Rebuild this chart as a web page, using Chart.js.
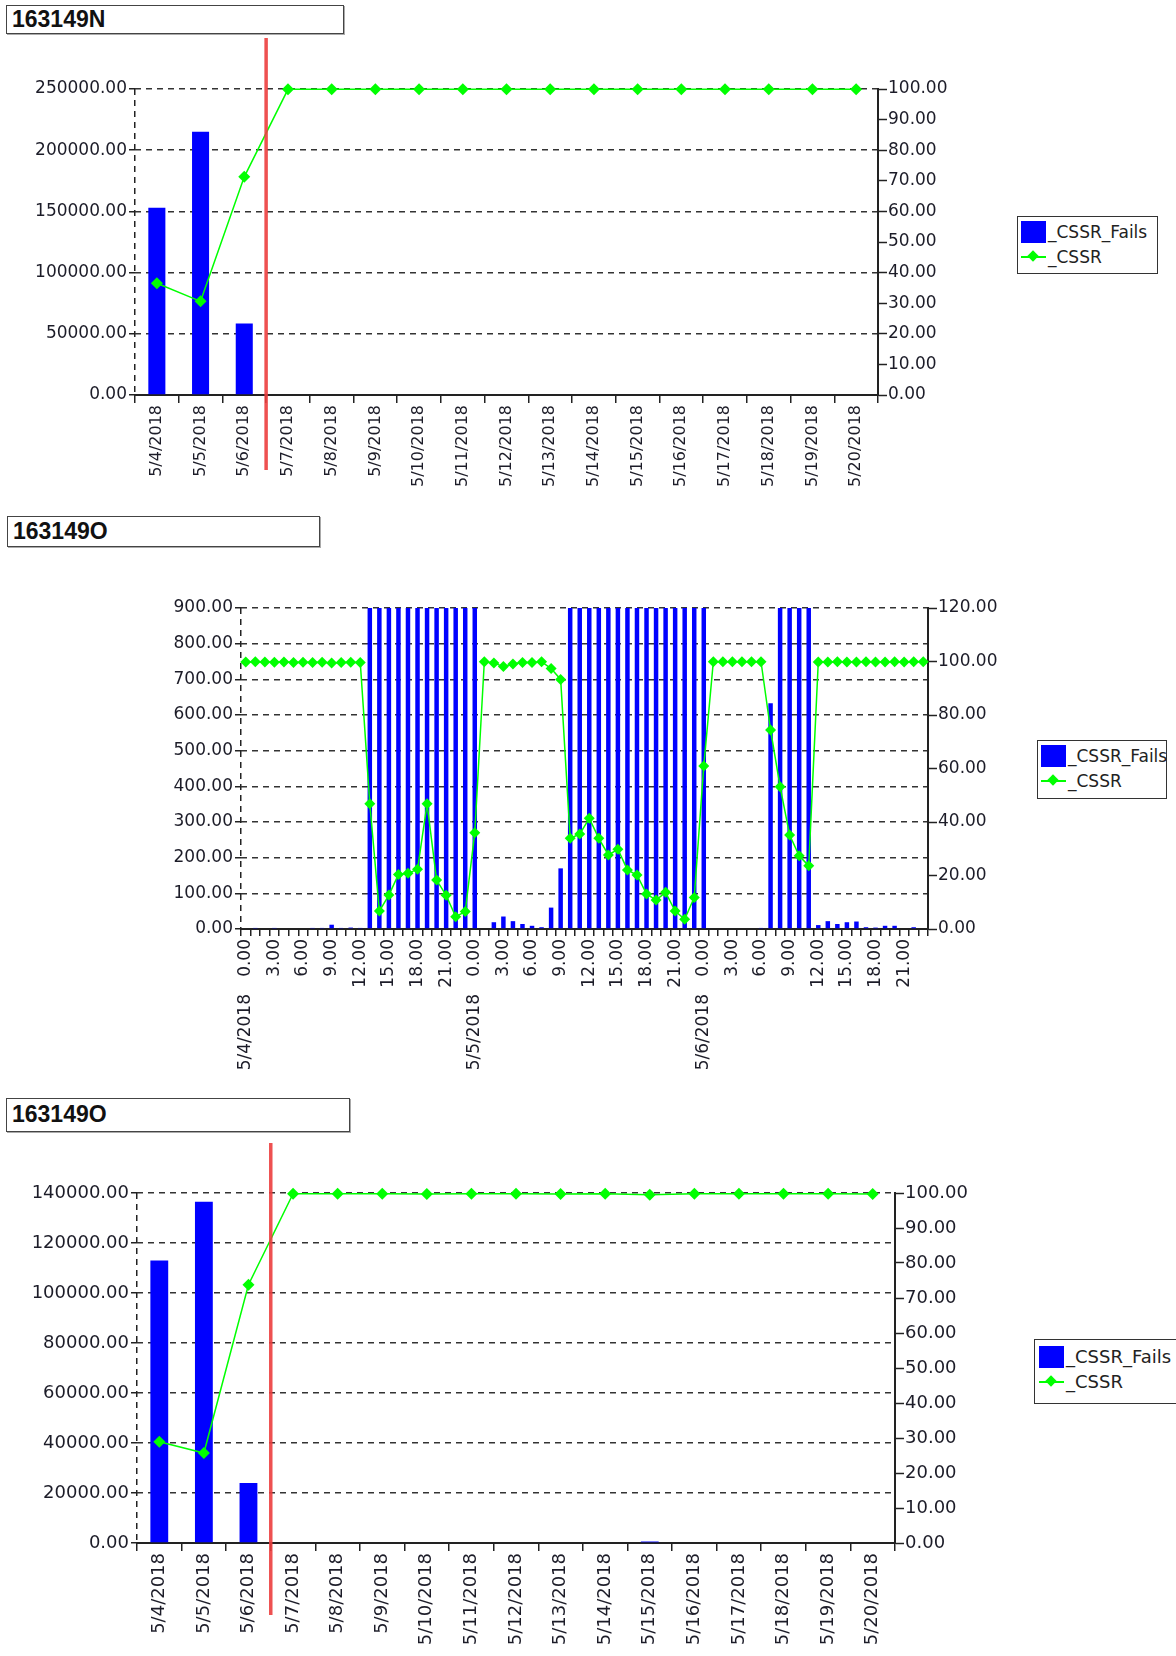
<!DOCTYPE html>
<html>
<head>
<meta charset="utf-8">
<script src="https://cdn.jsdelivr.net/npm/chart.js@4.4.1/dist/chart.umd.min.js"></script>
<style>
  body { margin: 0; background: #fff; width: 1176px; height: 1656px; position: relative; overflow: hidden; }
  .title {
    position: absolute; box-sizing: border-box; border: 1.5px solid #444; box-shadow: 1px 1px 0 #aaa;
    font: bold 23px "Liberation Sans", Arial, sans-serif; color: #111; padding-left: 5px; background: #fff;
  }
  canvas { position: absolute; left: 0; }
  .legend {
    position: absolute; box-sizing: border-box; border: 1.5px solid #333; background: #fff;
    font: 17px "DejaVu Sans", sans-serif; color: #222; padding: 2px 3px;
  }
  .legend .row { display: flex; align-items: center; height: 25px; white-space: nowrap; }
  .legend .sw-bar { width: 25px; height: 22px; margin-right: 2px; flex: none; }
  .legend .sw-line { position: relative; width: 25px; height: 2px; margin-right: 2px; flex: none; }
  .legend .sw-line i { position: absolute; left: 8px; top: -4px; width: 8px; height: 8px; transform: rotate(45deg); }
</style>
</head>
<body>
<div class="title" style="left:6px;top:5px;width:338px;height:29px;line-height:26px">163149N</div>
<canvas id="chartN" width="1000" height="464" style="top:36px"></canvas>
<div class="legend" id="legendN" style="left:1017px;top:216px;width:141px;height:58px"></div>

<div class="title" style="left:7px;top:516px;width:313px;height:31px;line-height:28px">163149O</div>
<canvas id="chartHourly" width="1000" height="520" style="top:560px"></canvas>
<div class="legend" id="legendHourly" style="left:1037px;top:740px;width:130px;height:59px"></div>

<div class="title" style="left:6px;top:1098px;width:344px;height:34px;line-height:31px">163149O</div>
<canvas id="chartO" width="1000" height="516" style="top:1140px"></canvas>
<div class="legend" id="legendO" style="left:1034px;top:1339px;width:156px;height:65px;font-size:18px;padding:4px 4px"></div>

<script>
// ---- data ----
const dailyDates = ["5/4/2018", "5/5/2018", "5/6/2018", "5/7/2018", "5/8/2018", "5/9/2018",
  "5/10/2018", "5/11/2018", "5/12/2018", "5/13/2018", "5/14/2018", "5/15/2018",
  "5/16/2018", "5/17/2018", "5/18/2018", "5/19/2018", "5/20/2018"];
const cutoverAfter = "5/6/2018";

const failsN = [153000, 215000, 58500, 0, 0, 0, 0, 0, 0, 0, 0, 0, 0, 0, 0, 0, 0];
const cssrN = [36.5, 30.6, 71.3, 99.9, 99.9, 99.9, 99.9, 99.9, 99.9, 99.9, 99.9, 99.9, 99.9, 99.9, 99.9, 99.9, 99.9];

const failsO = [113000, 136500, 24000, 0, 0, 0, 0, 0, 0, 0, 0, 600, 0, 0, 0, 0, 0];
const cssrO = [28.9, 25.7, 73.8, 99.8, 99.8, 99.8, 99.7, 99.8, 99.8, 99.7, 99.8, 99.5, 99.8, 99.8, 99.8, 99.8, 99.7];

const hourDays = ["5/4/2018", "5/5/2018", "5/6/2018"];
const hourTicks = ["0.00", "1.00", "2.00", "3.00", "4.00", "5.00", "6.00", "7.00", "8.00", "9.00", "10.00", "11.00",
  "12.00", "13.00", "14.00", "15.00", "16.00", "17.00", "18.00", "19.00", "20.00", "21.00", "22.00", "23.00"];

const failsHourly = [
  // 5/4
  0, 3, 0, 3, 0, 0, 0, 3, 3, 12, 3, 4, 3, 1650, 1820, 1900, 2100, 1750, 1980, 1600, 1880, 2050, 1700, 1500,
  // 5/5
  1400, 0, 19, 35, 22, 14, 9, 5, 60, 170, 1500, 1900, 2200, 2050, 1850, 2000, 1700, 1950, 2100, 1800, 1650, 1900, 1750, 1300,
  // 5/6
  1200, 0, 0, 0, 0, 0, 3, 633, 1100, 1600, 1800, 1400, 11, 22, 14, 19, 21, 5, 4, 9, 9, 0, 5, 0
];
const cssrHourly = [
  // 5/4
  99.8, 99.9, 99.8, 99.7, 99.8, 99.6, 99.7, 99.6, 99.7, 99.4, 99.6, 99.7, 99.6,
  46.8, 6.7, 12.7, 20.4, 20.8, 22.3, 46.8, 18.3, 12.6, 4.6, 6.5,
  // 5/5
  36.0, 99.9, 99.4, 98.1, 99.1, 99.6, 99.6, 99.9, 97.4, 93.3, 33.9, 35.5, 41.4, 33.9,
  27.7, 29.8, 22.1, 20.2, 13.1, 10.8, 13.7, 6.7, 3.6, 11.8,
  // 5/6
  60.9, 99.9, 99.9, 99.9, 99.9, 99.9, 99.9, 74.4, 53.2, 35.1, 27.4, 23.6,
  99.8, 99.8, 99.9, 99.8, 99.8, 99.9, 99.8, 99.8, 99.9, 99.8, 99.9, 99.9
];

// ---- style ----
const BAR = "#0000ff";
const LINE = "#00ff00";
const AXIS = "#222";
const GRID = "#333";
const TEXT = "#1c1c28";
const FONT = "DejaVu Sans";

const dividerPlugin = {
  id: "divider",
  afterDatasetsDraw(chart, args, opts) {
    if (opts.at == null) return;
    const { ctx, chartArea, scales } = chart;
    const px = scales.x.getPixelForValue(opts.at);
    ctx.save();
    ctx.strokeStyle = "rgba(236,62,62,0.9)";
    ctx.lineWidth = 3.5;
    ctx.beginPath();
    ctx.moveTo(px, chartArea.top - opts.above);
    ctx.lineTo(px, chartArea.bottom + opts.below);
    ctx.stroke();
    ctx.restore();
  },
};

function fmt(v) {
  return Number(v).toFixed(2);
}

function buildOptions(o) {
  const xTicks = {
    autoSkip: false, minRotation: 90, maxRotation: 90, color: TEXT,
    font: { family: FONT, size: o.xFont }, padding: o.xPad,
  };
  if (o.xCallback) xTicks.callback = o.xCallback;
  const scales = {
    x: {
      offset: true,
      weight: 0,
      grid: {
        offset: true,
        color: (c) => (c.index === 0 ? AXIS : "rgba(0,0,0,0)"),
        lineWidth: 1.5,
        tickColor: AXIS,
        tickWidth: 1.5,
        tickLength: o.xTick,
      },
      border: { display: true, color: AXIS, width: 2, dash: [6, 5] },
      ticks: xTicks,
      afterFit: (s) => { s.height = o.xHeight; },
    },
    y: {
      position: "left",
      min: 0,
      max: o.leftMax,
      ticks: { stepSize: o.leftStep, callback: fmt, color: TEXT, font: { family: FONT, size: o.yFont }, padding: 2 },
      grid: { color: GRID, lineWidth: 1.5, tickColor: AXIS, tickWidth: 1.5, tickLength: 6 },
      border: { display: false, dash: [6, 5] },
      afterFit: (s) => { s.width = o.leftW; },
    },
    y1: {
      position: "right",
      min: 0,
      max: o.rightMax,
      ticks: { stepSize: o.rightStep, callback: fmt, color: TEXT, font: { family: FONT, size: o.yFont }, padding: 1 },
      grid: { drawOnChartArea: false, tickColor: AXIS, tickWidth: 1.5, tickLength: 9 },
      border: { display: true, color: AXIS, width: 2 },
      afterFit: (s) => { s.width = o.rightW; },
    },
  };
  if (o.dateAxis) scales.x2 = o.dateAxis;
  return {
    responsive: false,
    animation: false,
    layout: { padding: { top: o.padTop, left: 0, right: 0, bottom: 0 } },
    plugins: {
      legend: { display: false },
      tooltip: { enabled: false },
      divider: o.divider || {},
    },
    scales,
  };
}

function datasets(fails, cssr, barPct, radius) {
  return [
    {
      type: "bar", label: "_CSSR_Fails", data: fails, backgroundColor: BAR,
      barPercentage: barPct, categoryPercentage: 1, yAxisID: "y", order: 1,
    },
    {
      type: "line", label: "_CSSR", data: cssr, borderColor: LINE, backgroundColor: LINE,
      borderWidth: 1.5, pointStyle: "rectRot", pointRadius: radius, pointBorderWidth: 0,
      tension: 0, yAxisID: "y1", order: 0, clip: false,
    },
  ];
}

function htmlLegend(chart, el) {
  chart.data.datasets.forEach((ds) => {
    const row = document.createElement("div");
    row.className = "row";
    const sw = document.createElement("span");
    if (ds.type === "bar") {
      sw.className = "sw-bar";
      sw.style.background = ds.backgroundColor;
    } else {
      sw.className = "sw-line";
      sw.style.background = ds.borderColor;
      const dot = document.createElement("i");
      dot.style.background = ds.backgroundColor;
      sw.appendChild(dot);
    }
    const txt = document.createElement("span");
    txt.textContent = ds.label;
    row.appendChild(sw);
    row.appendChild(txt);
    el.appendChild(row);
  });
}

// ---- chart 1: 163149N daily ----
const chartN = new Chart(document.getElementById("chartN"), {
  data: { labels: dailyDates, datasets: datasets(failsN, cssrN, 0.39, 6) },
  options: buildOptions({
    padTop: 53, leftW: 135, rightW: 122, xHeight: 105, xTick: 8, xPad: 2, xFont: 16, yFont: 17,
    leftMax: 250000, leftStep: 50000, rightMax: 100, rightStep: 10,
    divider: { at: dailyDates.indexOf(cutoverAfter) + 0.5, above: 51, below: 75 },
  }),
  plugins: [dividerPlugin],
});
htmlLegend(chartN, document.getElementById("legendN"));

// ---- chart 2: 163149O hourly ----
const hourlyLabels = hourDays.flatMap((d) => hourTicks.map((h) => d + " " + h));
const chartHourly = new Chart(document.getElementById("chartHourly"), {
  data: { labels: hourlyLabels, datasets: datasets(failsHourly, cssrHourly, 0.47, 5.5) },
  options: buildOptions({
    padTop: 48, leftW: 241, rightW: 72, xHeight: 62, xTick: 7, xPad: 3, xFont: 17, yFont: 17,
    leftMax: 900, leftStep: 100, rightMax: 120, rightStep: 20,
    xCallback(v, i) {
      return i % 3 === 0 ? this.getLabelForValue(v).split(" ")[1] : "";
    },
    dateAxis: {
      type: "category",
      position: "bottom",
      offset: true,
      weight: 1,
      grid: { display: false, drawTicks: false },
      border: { display: false },
      ticks: {
        autoSkip: false, minRotation: 90, maxRotation: 90, color: TEXT,
        font: { family: FONT, size: 17 }, padding: 3,
        callback(v, i) {
          return i % 24 === 0 ? this.getLabelForValue(v).split(" ")[0] : "";
        },
      },
      afterFit: (s) => { s.height = 89; },
    },
  }),
});
htmlLegend(chartHourly, document.getElementById("legendHourly"));

// ---- chart 3: 163149O daily ----
const chartO = new Chart(document.getElementById("chartO"), {
  data: { labels: dailyDates, datasets: datasets(failsO, cssrO, 0.4, 6) },
  options: buildOptions({
    padTop: 53, leftW: 137, rightW: 105, xHeight: 113, xTick: 8, xPad: 2, xFont: 18, yFont: 18,
    leftMax: 140000, leftStep: 20000, rightMax: 100, rightStep: 10,
    divider: { at: dailyDates.indexOf(cutoverAfter) + 0.5, above: 50, below: 72 },
  }),
  plugins: [dividerPlugin],
});
htmlLegend(chartO, document.getElementById("legendO"));
</script>
</body>
</html>
